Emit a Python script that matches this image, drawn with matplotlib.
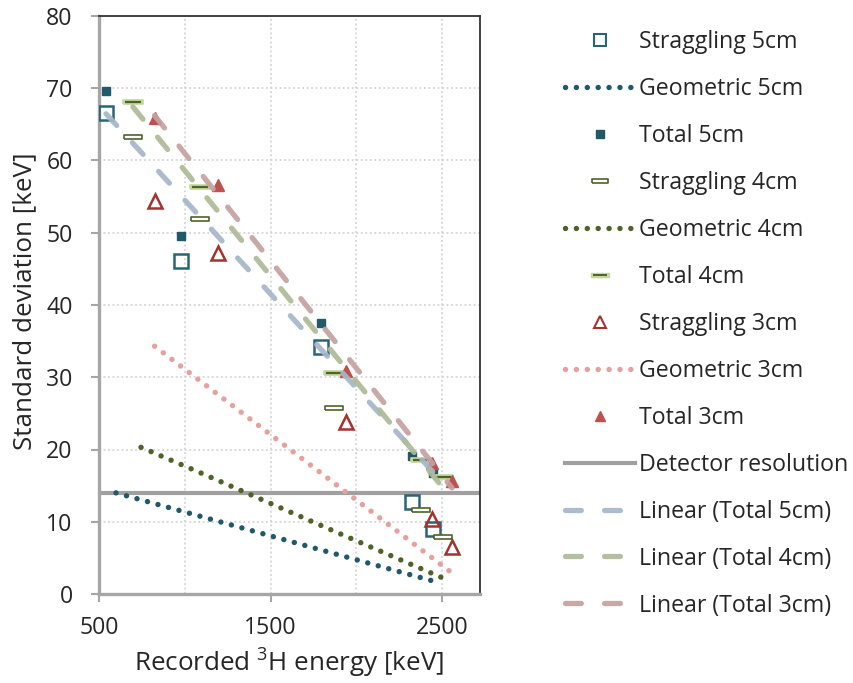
import numpy as np
import matplotlib
matplotlib.use("Agg")
import matplotlib.pyplot as plt
from matplotlib.legend_handler import HandlerTuple
from matplotlib.lines import Line2D

plt.rcParams['font.family'] = ['Open Sans', 'DejaVu Sans']
plt.rcParams['mathtext.default'] = 'regular'

# ---- data (keV) ----
x5 = [541, 978, 1794, 2325, 2447]
straggling5 = [66.6, 46.1, 34.2, 12.7, 9.0]
total5 = [69.6, 49.5, 37.5, 19.1, 16.7]
geo5_x = [599, 978, 1794, 2325, 2447]
geometric5 = [14.0, 11.5, 6.1, 2.6, 1.8]

x4 = [698, 1089, 1870, 2378, 2506]
straggling4 = [63.3, 51.9, 25.7, 11.6, 7.9]
total4 = [68.1, 56.3, 30.6, 18.5, 16.2]
geo4_x = [745, 1089, 1870, 2378, 2506]
geometric4 = [20.3, 16.8, 8.7, 3.5, 2.2]

x3 = [824, 1194, 1940, 2442, 2558]
straggling3 = [54.4, 47.2, 23.8, 10.4, 6.5]
total3 = [65.9, 56.6, 30.9, 18.2, 15.7]
geo3_x = [824, 1194, 1940, 2442, 2558]
geometric3 = [34.3, 27.6, 14.1, 5.0, 2.9]

detector_resolution = 14.0

x_ticks = [500, 1500, 2500]
y_ticks = list(range(0, 81, 10))

# ---- colours ----
c5 = '#215968'
c5_edge = '#2A6577'
c4 = '#4F6228'
c4_light = '#C3D69B'
c3_edge = '#A5322F'
c3_fill = '#C0504D'
c3_geo = '#E6A09E'
c_det = '#A0A0A0'
trend5 = '#A7B7C9'
trend4 = '#AEBA98'
trend3 = '#C5A2A2'
text_c = '#262626'

FS = 16.7
FS_TITLE = 18.7

fig = plt.figure(figsize=(8.54, 6.83), dpi=100)
ax = fig.add_axes([99/854, 1-594/683, (480-99)/854, (594-16)/683])

ax.set_xlim(500, 2721)
ax.set_ylim(0, 80)

# grid
ax.set_xticks(x_ticks)
ax.set_xticks([1000, 2000], minor=True)
ax.set_yticks(y_ticks)
ax.grid(True, which='both', color='#D4D4D4', linestyle=(0, (1, 1.5)), linewidth=1.3, zorder=0)
ax.set_axisbelow(True)

# spines
for s in ['left', 'bottom']:
    ax.spines[s].set_color('#A6A6A6')
    ax.spines[s].set_linewidth(2.4)
for s in ['top', 'right']:
    ax.spines[s].set_color('#333333')
    ax.spines[s].set_linewidth(1.3)

ax.tick_params(axis='both', which='major', direction='out', colors='#A6A6A6',
               labelcolor=text_c, labelsize=FS, width=1.5, length=5.5)
ax.tick_params(axis='x', which='minor', length=0)
ax.tick_params(axis='x', pad=10.5)
ax.tick_params(axis='y', pad=13.5)

# detector resolution
h_det = ax.axhline(detector_resolution, color=c_det, linewidth=3.0, zorder=2)

dot = (0, (0.01, 2.0))

# geometric contributions
h_g5, = ax.plot(geo5_x, geometric5, color=c5, linestyle=dot, linewidth=3.9,
                dash_capstyle='round', zorder=3)
h_g4, = ax.plot(geo4_x, geometric4, color=c4, linestyle=dot, linewidth=3.9,
                dash_capstyle='round', zorder=3)
h_g3, = ax.plot(geo3_x, geometric3, color=c3_geo, linestyle=dot, linewidth=3.9,
                dash_capstyle='round', zorder=3)

rect = [(-1, -0.22), (1, -0.22), (1, 0.22), (-1, 0.22), (-1, -0.22)]

# 5 cm
ax.plot(x5, straggling5, linestyle='none', marker='s', markersize=10,
        markerfacecolor='none', markeredgecolor=c5_edge, markeredgewidth=1.8, zorder=4)
ax.plot(x5, total5, linestyle='none', marker='s', markersize=5.8,
        color=c5, zorder=4)

# 4 cm
ax.plot(x4, straggling4, linestyle='none', marker=rect, markersize=13.5,
        markerfacecolor='white', markeredgecolor=c4, markeredgewidth=1.2, zorder=4)
ax.plot(x4, total4, linestyle='none', marker=rect, markersize=14.5,
        markerfacecolor=c4_light, markeredgecolor=c4_light, markeredgewidth=1.2, zorder=4)
ax.plot(x4, total4, linestyle='none', marker='_', markersize=11.5,
        markeredgecolor=c4, markeredgewidth=1.6, zorder=4)

# 3 cm
ax.plot(x3, straggling3, linestyle='none', marker='^', markersize=10.5,
        markerfacecolor='none', markeredgecolor=c3_edge, markeredgewidth=1.8, zorder=4)
ax.plot(x3, total3, linestyle='none', marker='^', markersize=8.5,
        color=c3_fill, zorder=4)

# linear trend lines of the totals
dash = (0, (3.0, 4.4))
trend_handles = []
for xs, ys, col in [(x5, total5, trend5), (x4, total4, trend4), (x3, total3, trend3)]:
    k, b = np.polyfit(xs, ys, 1)
    xx = np.array([min(xs), max(xs)])
    h, = ax.plot(xx, k*xx + b, color=col, linestyle=dash, linewidth=3.8,
                 dash_capstyle='round', alpha=0.93, zorder=5)
    trend_handles.append(h)

fig.text(25/854, 1-301/683, 'Standard deviation [keV]', rotation=90,
         ha='center', va='center', fontsize=FS_TITLE, color=text_c)
ax.set_xlabel(r'Recorded $^{3}$H energy [keV]', fontsize=FS_TITLE, color=text_c)
ax.xaxis.set_label_coords(0.5, (594-647)/578)

# legend
leg_s5 = Line2D([], [], linestyle='none', marker='s', markersize=8.5,
                markerfacecolor='none', markeredgecolor=c5_edge, markeredgewidth=1.5)
leg_t5 = Line2D([], [], linestyle='none', marker='s', markersize=5.5, color=c5)
leg_s4 = Line2D([], [], linestyle='none', marker=rect, markersize=12,
                markerfacecolor='white', markeredgecolor=c4, markeredgewidth=1.2)
leg_t4a = Line2D([], [], linestyle='none', marker=rect, markersize=12.5,
                 markerfacecolor=c4_light, markeredgecolor=c4_light, markeredgewidth=1.0)
leg_t4b = Line2D([], [], linestyle='none', marker='_', markersize=10,
                 markeredgecolor=c4, markeredgewidth=1.4)
leg_s3 = Line2D([], [], linestyle='none', marker='^', markersize=8.5,
                markerfacecolor='none', markeredgecolor=c3_edge, markeredgewidth=1.5)
leg_t3 = Line2D([], [], linestyle='none', marker='^', markersize=7, color=c3_fill)

handles = [leg_s5, h_g5, leg_t5, leg_s4, h_g4, (leg_t4a, leg_t4b), leg_s3, h_g3, leg_t3,
           h_det] + trend_handles
labels = ['Straggling 5cm', 'Geometric 5cm', 'Total 5cm',
          'Straggling 4cm', 'Geometric 4cm', 'Total 4cm',
          'Straggling 3cm', 'Geometric 3cm', 'Total 3cm',
          'Detector resolution', 'Linear (Total 5cm)', 'Linear (Total 4cm)',
          'Linear (Total 3cm)']
fig.legend(handles, labels, loc='upper left', bbox_to_anchor=(565/854, 1-30/683),
           frameon=False, fontsize=FS, handlelength=3.0, handletextpad=0.17,
           borderpad=0, borderaxespad=0, labelspacing=0.99, numpoints=1,
           labelcolor=text_c,
           handler_map={tuple: HandlerTuple(ndivide=1, pad=0)})

fig.savefig('out.png', dpi=100)
